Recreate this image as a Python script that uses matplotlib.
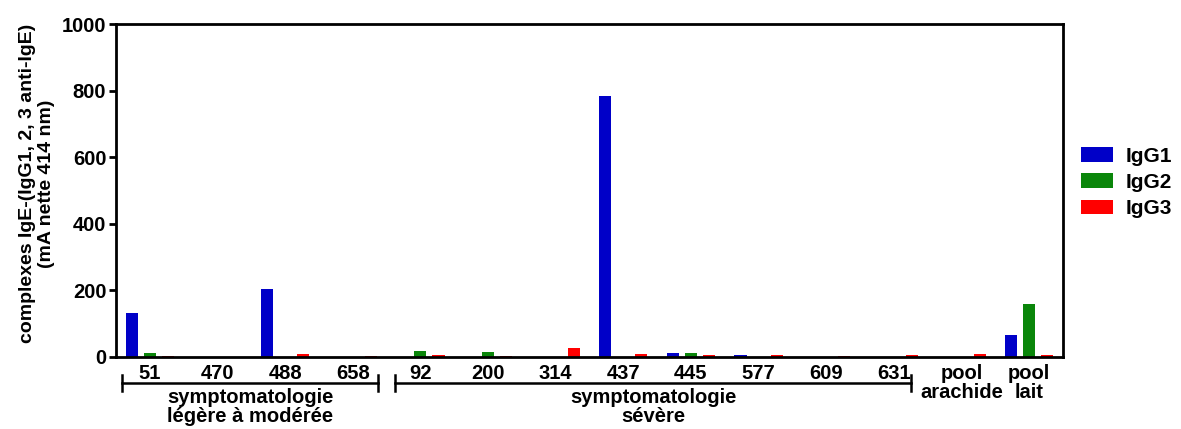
import matplotlib.pyplot as plt
import numpy as np

plt.rcParams['font.family'] = ['Liberation Sans', 'DejaVu Sans']
plt.rcParams['font.weight'] = 'bold'

patients = ['51', '470', '488', '658', '92', '200', '314', '437', '445',
            '577', '609', '631', 'pool\narachide', 'pool\nlait']
igg1 = [132, 0, 204, 0, 0, 0, 0, 783, 13, 5, 0, 0, 0, 66]
igg2 = [12, 0, 0, 0, 18, 15, 0, 0, 13, 0, 0, 0, 0, 159]
igg3 = [3, 0, 8, 3, 5, 3, 26, 8, 6, 6, 3, 7, 9, 5]

series = [('IgG1', igg1, '#0000c8'),
          ('IgG2', igg2, '#0a860a'),
          ('IgG3', igg3, '#ff0000')]

fig = plt.figure(figsize=(11.81, 4.29), dpi=100)
ax = fig.add_axes([0.0982, 0.168, 0.8019, 0.776])

x = np.arange(len(patients))
width = 0.178
step = 0.268
for k, (name, vals, col) in enumerate(series):
    ax.bar(x + (k - 1) * step, vals, width, color=col, label=name)

ax.set_xlim(-0.5, len(patients) - 0.5)
ax.set_ylim(0, 1000)
ax.set_yticks([0, 200, 400, 600, 800, 1000])
ax.tick_params(axis='y', labelsize=14.5, width=2, length=5, pad=2)
for lab in ax.get_yticklabels():
    lab.set_fontweight('bold')
ax.set_xticks([])
for sp in ax.spines.values():
    sp.set_linewidth(2)

ax.set_ylabel('complexes IgE-(IgG1, 2, 3 anti-IgE)\n(mA nette 414 nm)',
              fontsize=14, fontweight='bold', linespacing=1.15)
ax.yaxis.set_label_coords(-0.064, 0.52)

# category labels under the axis
trans = ax.get_xaxis_transform()
for i, p in enumerate(patients):
    ax.text(i, -0.022, p, transform=trans, ha='center', va='top',
            fontsize=14.5, fontweight='bold', linespacing=1.0)

# brackets for the two groups
def bracket(x0, x1, label):
    y = -0.078
    ax.plot([x0, x1], [y, y], transform=trans, color='black', lw=1.8, clip_on=False)
    for xx in (x0, x1):
        ax.plot([xx, xx], [y - 0.025, y + 0.025], transform=trans, color='black',
                lw=1.8, clip_on=False)
    ax.text((x0 + x1) / 2, y - 0.016, label, transform=trans, ha='center', va='top',
            fontsize=14.5, fontweight='bold', linespacing=1.0)

bracket(-0.41, 3.38, 'symptomatologie\nlégère à modérée')
bracket(3.63, 11.25, 'symptomatologie\nsévère')

leg = ax.legend(loc='center left', bbox_to_anchor=(1.019, 0.524), frameon=False,
                prop={'size': 15, 'weight': 'bold'}, handlelength=1.55,
                handleheight=0.7, handletextpad=0.6, labelspacing=0.35,
                borderpad=0, borderaxespad=0)

fig.savefig('out.png', dpi=100)
